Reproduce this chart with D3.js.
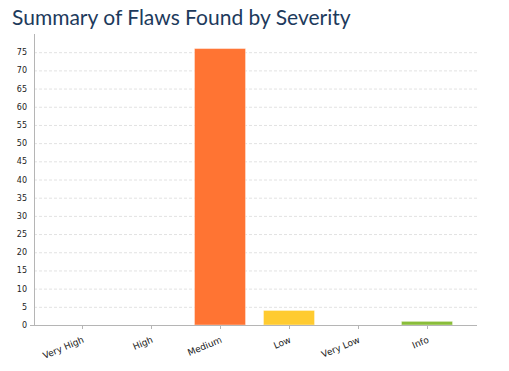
<!DOCTYPE html>
<html>
<head>
<meta charset="utf-8">
<script src="https://cdn.jsdelivr.net/npm/d3@7"></script>
<style>
  body { margin: 0; background: #fff; }
</style>
</head>
<body>
<div id="chart"></div>
<script>
const categories = ['Very High', 'High', 'Medium', 'Low', 'Very Low', 'Info'];
const counts = [0, 0, 76, 4, 0, 1];
const barColors = ['#e8403a', '#f2662a', '#ff7433', '#ffcb30', '#5fa8d8', '#8abd3a'];
const yTicks = d3.range(0, 80, 5);

const width = 509, height = 371;
const svg = d3.select('#chart').append('svg')
    .attr('width', width)
    .attr('height', height);

svg.append('text')
    .attr('x', 12)
    .attr('y', 25)
    .attr('font-family', 'Lato, sans-serif')
    .attr('font-size', '21px')
    .attr('fill', '#1d3a5c')
    .text('Summary of Flaws Found by Severity');

const axisLeft = 34, axisRight = 477, axisTop = 34, axisBottom = 325;

const x = d3.scaleBand()
    .domain(categories)
    .range([47.5, 461.5])
    .paddingInner(0.26)
    .paddingOuter(0.13);

const y = d3.scaleLinear()
    .domain([0, 80])
    .range([axisBottom, axisTop]);

// grid lines
svg.append('g')
    .selectAll('line')
    .data(yTicks.filter(d => d > 0))
    .join('line')
    .attr('x1', axisLeft).attr('x2', axisRight)
    .attr('y1', d => y(d) + 0.5).attr('y2', d => y(d) + 0.5)
    .attr('stroke', '#e2e2e2')
    .attr('stroke-dasharray', '3,2');

// y tick labels
svg.append('g')
    .selectAll('text')
    .data(yTicks)
    .join('text')
    .attr('x', 27)
    .attr('y', d => y(d) + 3)
    .attr('text-anchor', 'end')
    .attr('font-family', 'DejaVu Sans, sans-serif')
    .attr('font-size', '8px')
    .attr('fill', '#222')
    .text(d => d);

// bars
svg.append('g')
    .selectAll('rect')
    .data(categories)
    .join('rect')
    .attr('x', d => x(d))
    .attr('width', x.bandwidth())
    .attr('y', (d, i) => y(counts[i]))
    .attr('height', (d, i) => y(0) - y(counts[i]))
    .attr('fill', (d, i) => barColors[i])
    .attr('stroke', '#ffffff')
    .attr('stroke-opacity', 0.4)
    .attr('stroke-width', 1);

// axis lines
svg.append('line')
    .attr('x1', axisLeft + 0.5).attr('x2', axisLeft + 0.5)
    .attr('y1', axisTop).attr('y2', axisBottom)
    .attr('stroke', '#b5b5b5');
svg.append('line')
    .attr('x1', axisLeft).attr('x2', axisRight)
    .attr('y1', axisBottom + 0.5).attr('y2', axisBottom + 0.5)
    .attr('stroke', '#b5b5b5');
svg.append('line')
    .attr('x1', axisLeft - 4).attr('x2', axisLeft)
    .attr('y1', axisBottom + 0.5).attr('y2', axisBottom + 0.5)
    .attr('stroke', '#b5b5b5');

// x ticks and labels
const xt = svg.append('g')
    .selectAll('g')
    .data(categories)
    .join('g')
    .attr('transform', d => `translate(${Math.round(x(d) + x.bandwidth() / 2) + 0.5},${axisBottom})`);
xt.append('line')
    .attr('y1', 0).attr('y2', 4)
    .attr('stroke', '#b5b5b5');
xt.append('text')
    .attr('transform', 'translate(2,17) rotate(-23)')
    .attr('text-anchor', 'end')
    .attr('font-family', 'DejaVu Sans, sans-serif')
    .attr('font-size', '9px')
    .attr('fill', '#222')
    .text(d => d);
</script>
</body>
</html>
